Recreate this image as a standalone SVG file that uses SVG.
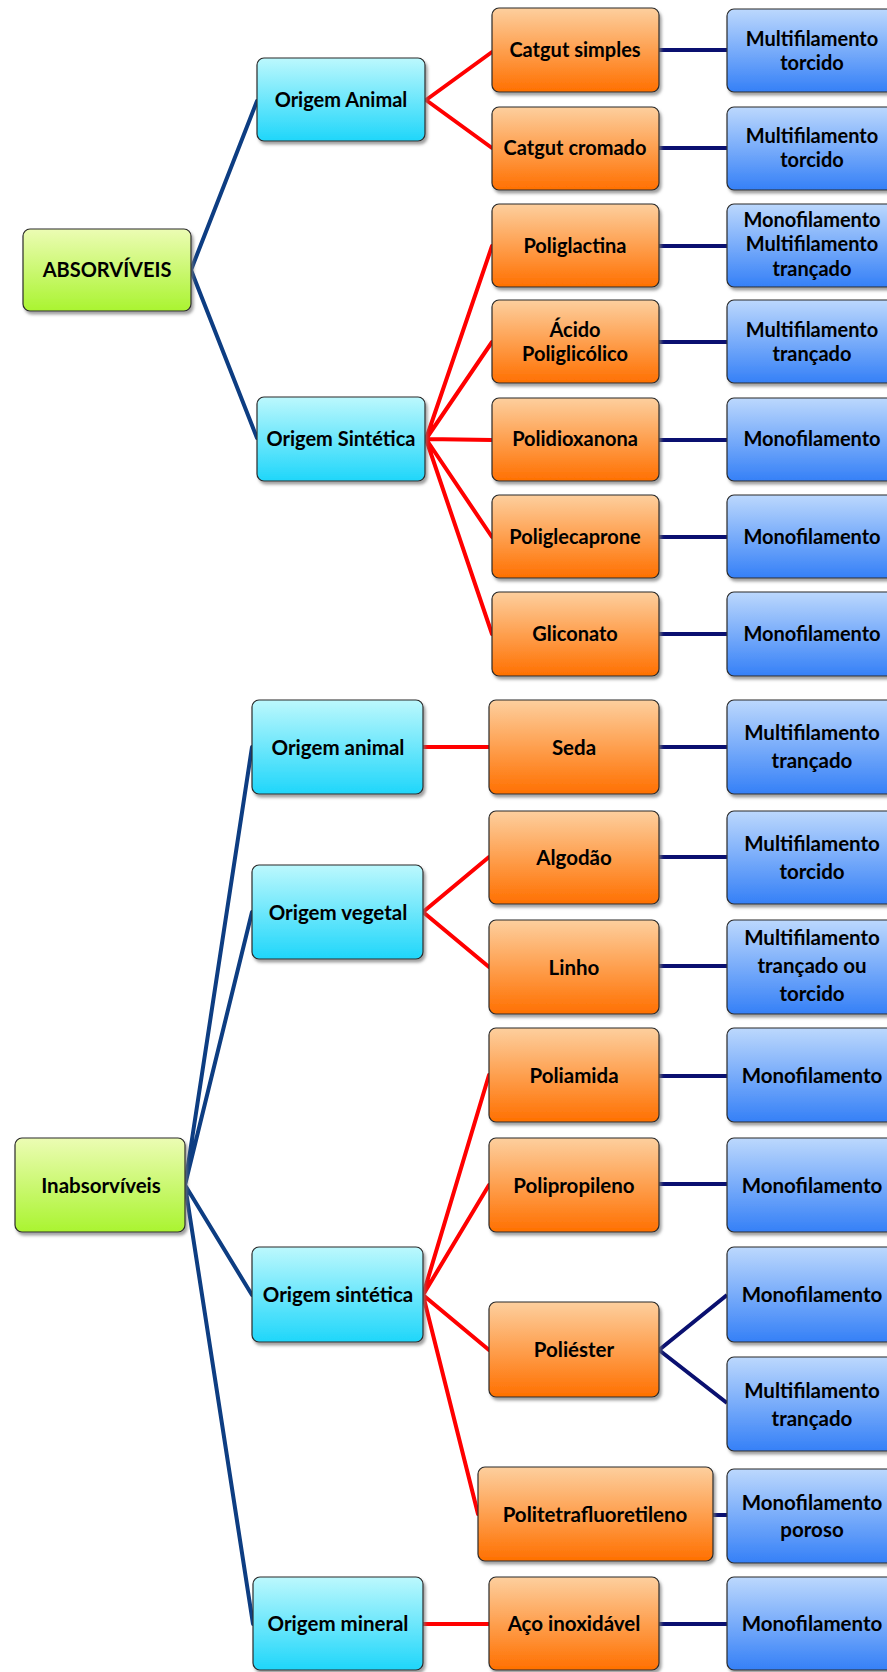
<svg xmlns="http://www.w3.org/2000/svg" width="887" height="1672" viewBox="0 0 887 1672">
<defs>
<linearGradient id="gGreen" x1="0" y1="0" x2="0" y2="1"><stop offset="0" stop-color="#ecfcb4"/><stop offset="1" stop-color="#aaf430"/></linearGradient>
<linearGradient id="gCyan" x1="0" y1="0" x2="0" y2="1"><stop offset="0" stop-color="#bcf8fd"/><stop offset="1" stop-color="#1fd6fa"/></linearGradient>
<linearGradient id="gOrange" x1="0" y1="0" x2="0" y2="1"><stop offset="0" stop-color="#fdcf9e"/><stop offset="1" stop-color="#ff7000"/></linearGradient>
<linearGradient id="gBlue" x1="0" y1="0" x2="0" y2="1"><stop offset="0" stop-color="#bcd8fd"/><stop offset="1" stop-color="#3580f7"/></linearGradient>
<filter id="sh" x="-10%" y="-10%" width="130%" height="140%"><feDropShadow dx="2" dy="3" stdDeviation="1.5" flood-color="#777" flood-opacity="0.7"/></filter>
</defs>
<style>
.box{stroke:#2a2a2a;stroke-width:1.2;filter:url(#sh)}
.g{fill:url(#gGreen)}.c{fill:url(#gCyan)}.o{fill:url(#gOrange)}.b{fill:url(#gBlue)}
text{font-family:Lato,"Open Sans","Liberation Sans",sans-serif;font-weight:bold;fill:#000;text-anchor:middle}
.t1{font-size:20px}.t2{font-size:20.5px}
.nl{stroke:#0d3d82;stroke-width:4;fill:none;stroke-linecap:round}
.nr{stroke:#0a1070;stroke-width:4;fill:none}
.rd{stroke:#ff0000;stroke-width:4;fill:none;stroke-linecap:round}
</style>
<rect width="887" height="1672" fill="#fff"/>
<g id="connectors">
<path class="nl" d="M191,270L257,101M191,270L257,438M185,1185L252,747M185,1185L252,912M185,1185L252,1295M185,1185L253,1624"/>
<path class="rd" d="M426,100L492,52M426,100L492,148M426,439L492,246M426,439L492,342M426,439L492,440M426,439L492,537M426,439L492,634M423,747L489,747M423,912L489,857M423,912L489,967M423,1295L489,1075M423,1295L489,1185M423,1295L489,1350M423,1295L478,1514M423,1624L489,1624"/>
<path class="nr" d="M659,50H727M659,148H727M659,246H727M659,342H727M659,440H727M659,537H727M659,634H727M659,747H727M659,857H727M659,966H727M659,1076H727M659,1184H727M659,1350L727,1295M659,1350L727,1403M713,1515H727M659,1624H727"/>
</g>
<g id="n-absorviveis"><rect class="box g" x="23" y="229" width="168" height="82" rx="7"/><text class="t1" x="107" y="277">ABSORVÍVEIS</text></g>
<g id="n-origem-animal-1"><rect class="box c" x="257" y="58" width="168" height="83" rx="7"/><text class="t1" x="341" y="107">Origem Animal</text></g>
<g id="n-origem-sintetica-1"><rect class="box c" x="257" y="397" width="168" height="84" rx="7"/><text class="t1" x="341" y="446">Origem Sintética</text></g>
<g id="n-catgut-simples"><rect class="box o" x="492" y="8" width="167" height="84" rx="7"/><text class="t1" x="575" y="57">Catgut simples</text></g>
<g id="n-catgut-cromado"><rect class="box o" x="492" y="107" width="167" height="83" rx="7"/><text class="t1" x="575" y="155">Catgut cromado</text></g>
<g id="n-poliglactina"><rect class="box o" x="492" y="204" width="167" height="83" rx="7"/><text class="t1" x="575" y="253">Poliglactina</text></g>
<g id="n-acido"><rect class="box o" x="492" y="300" width="167" height="83" rx="7"/><text class="t1" x="575" y="337">Ácido</text><text class="t1" x="575" y="361">Poliglicólico</text></g>
<g id="n-polidioxanona"><rect class="box o" x="492" y="398" width="167" height="83" rx="7"/><text class="t1" x="575" y="446">Polidioxanona</text></g>
<g id="n-poliglecaprone"><rect class="box o" x="492" y="495" width="167" height="83" rx="7"/><text class="t1" x="575" y="544">Poliglecaprone</text></g>
<g id="n-gliconato"><rect class="box o" x="492" y="592" width="167" height="84" rx="7"/><text class="t1" x="575" y="641">Gliconato</text></g>
<g id="b1"><rect class="box b" x="727" y="9" width="172" height="83" rx="7"/><text class="t1" x="812" y="46">Multifilamento</text><text class="t1" x="812" y="70">torcido</text></g>
<g id="b2"><rect class="box b" x="727" y="107" width="172" height="83" rx="7"/><text class="t1" x="812" y="143">Multifilamento</text><text class="t1" x="812" y="167">torcido</text></g>
<g id="b3"><rect class="box b" x="727" y="204" width="172" height="83" rx="7"/><text class="t1" x="812" y="227">Monofilamento</text><text class="t1" x="812" y="251">Multifilamento</text><text class="t1" x="812" y="276">trançado</text></g>
<g id="b4"><rect class="box b" x="727" y="300" width="172" height="83" rx="7"/><text class="t1" x="812" y="337">Multifilamento</text><text class="t1" x="812" y="361">trançado</text></g>
<g id="b5"><rect class="box b" x="727" y="398" width="172" height="83" rx="7"/><text class="t1" x="812" y="446">Monofilamento</text></g>
<g id="b6"><rect class="box b" x="727" y="495" width="172" height="83" rx="7"/><text class="t1" x="812" y="544">Monofilamento</text></g>
<g id="b7"><rect class="box b" x="727" y="592" width="172" height="84" rx="7"/><text class="t1" x="812" y="641">Monofilamento</text></g>
<g id="n-inabsorviveis"><rect class="box g" x="15" y="1138" width="170" height="94" rx="7"/><text class="t2" x="101" y="1193">Inabsorvíveis</text></g>
<g id="n-origem-animal-2"><rect class="box c" x="252" y="700" width="171" height="94" rx="7"/><text class="t2" x="338" y="755">Origem animal</text></g>
<g id="n-origem-vegetal"><rect class="box c" x="252" y="865" width="171" height="94" rx="7"/><text class="t2" x="338" y="920">Origem vegetal</text></g>
<g id="n-origem-sintetica-2"><rect class="box c" x="252" y="1247" width="171" height="95" rx="7"/><text class="t2" x="338" y="1302">Origem sintética</text></g>
<g id="n-origem-mineral"><rect class="box c" x="253" y="1577" width="170" height="93" rx="7"/><text class="t2" x="338" y="1631">Origem mineral</text></g>
<g id="n-seda"><rect class="box o" x="489" y="700" width="170" height="94" rx="7"/><text class="t2" x="574" y="755">Seda</text></g>
<g id="n-algodao"><rect class="box o" x="489" y="811" width="170" height="93" rx="7"/><text class="t2" x="574" y="865">Algodão</text></g>
<g id="n-linho"><rect class="box o" x="489" y="920" width="170" height="94" rx="7"/><text class="t2" x="574" y="975">Linho</text></g>
<g id="n-poliamida"><rect class="box o" x="489" y="1028" width="170" height="94" rx="7"/><text class="t2" x="574" y="1083">Poliamida</text></g>
<g id="n-polipropileno"><rect class="box o" x="489" y="1138" width="170" height="94" rx="7"/><text class="t2" x="574" y="1193">Polipropileno</text></g>
<g id="n-poliester"><rect class="box o" x="489" y="1302" width="170" height="95" rx="7"/><text class="t2" x="574" y="1357">Poliéster</text></g>
<g id="n-ptfe"><rect class="box o" x="478" y="1467" width="235" height="94" rx="7"/><text class="t2" x="595" y="1522">Politetrafluoretileno</text></g>
<g id="n-aco"><rect class="box o" x="489" y="1577" width="170" height="93" rx="7"/><text class="t2" x="574" y="1631">Aço inoxidável</text></g>
<g id="b8"><rect class="box b" x="727" y="700" width="172" height="94" rx="7"/><text class="t2" x="812" y="740">Multifilamento</text><text class="t2" x="812" y="768">trançado</text></g>
<g id="b9"><rect class="box b" x="727" y="811" width="172" height="93" rx="7"/><text class="t2" x="812" y="851">Multifilamento</text><text class="t2" x="812" y="879">torcido</text></g>
<g id="b10"><rect class="box b" x="727" y="920" width="172" height="94" rx="7"/><text class="t2" x="812" y="945">Multifilamento</text><text class="t2" x="812" y="973">trançado ou</text><text class="t2" x="812" y="1001">torcido</text></g>
<g id="b11"><rect class="box b" x="727" y="1028" width="172" height="94" rx="7"/><text class="t2" x="812" y="1083">Monofilamento</text></g>
<g id="b12"><rect class="box b" x="727" y="1138" width="172" height="94" rx="7"/><text class="t2" x="812" y="1193">Monofilamento</text></g>
<g id="b13"><rect class="box b" x="727" y="1247" width="172" height="95" rx="7"/><text class="t2" x="812" y="1302">Monofilamento</text></g>
<g id="b14"><rect class="box b" x="727" y="1357" width="172" height="94" rx="7"/><text class="t2" x="812" y="1398">Multifilamento</text><text class="t2" x="812" y="1426">trançado</text></g>
<g id="b15"><rect class="box b" x="727" y="1469" width="172" height="94" rx="7"/><text class="t2" x="812" y="1510">Monofilamento</text><text class="t2" x="812" y="1537">poroso</text></g>
<g id="b16"><rect class="box b" x="727" y="1577" width="172" height="93" rx="7"/><text class="t2" x="812" y="1631">Monofilamento</text></g>
</svg>
